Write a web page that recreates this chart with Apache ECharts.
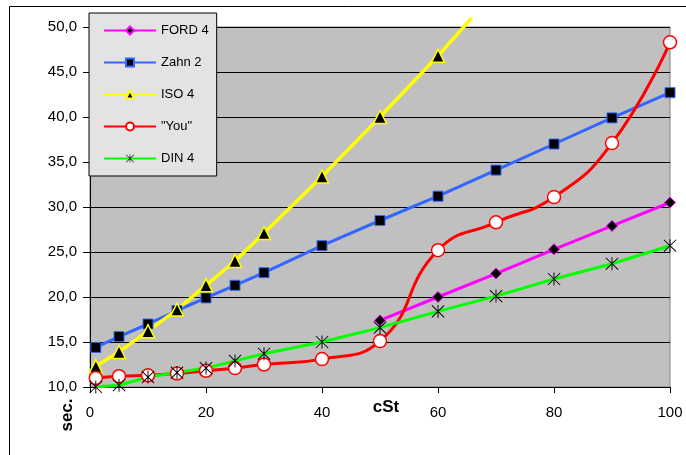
<!DOCTYPE html>
<html>
<head>
<meta charset="utf-8">
<script src="https://cdn.jsdelivr.net/npm/echarts@6/dist/echarts.min.js"></script>
<style>
html,body{margin:0;padding:0;background:#fff;}
#chart{width:686px;height:455px;}
</style>
</head>
<body>
<div id="chart"></div>
<script>
// ---- data ----
var seriesNames = ['FORD 4', 'Zahn 2', 'ISO 4', '"You"', 'DIN 4'];
var xStd = [1, 5, 10, 15, 20, 25, 30, 40, 50, 60, 70, 80, 90, 100];
var fordX = [50, 60, 70, 80, 90, 100];
var fordY = [17.4, 20.0, 22.6, 25.3, 27.9, 30.5];
var zahnY = [14.4, 15.6, 17.0, 18.5, 19.9, 21.3, 22.7, 25.7, 28.5, 31.2, 34.1, 37.0, 39.9, 42.7];
var isoX = [1, 5, 10, 15, 20, 25, 30, 40, 50, 60, 65.8];
var isoY = [12.3, 13.9, 16.2, 18.6, 21.3, 24.0, 27.1, 33.4, 40.0, 46.8, 51.0];
var youY = [11.0, 11.2, 11.3, 11.5, 11.8, 12.1, 12.5, 13.1, 15.1, 25.2, 28.3, 31.1, 37.1, 48.3];
var dinY = [10.0, 10.2, 11.1, 11.6, 12.1, 12.9, 13.7, 15.0, 16.6, 18.4, 20.1, 22.0, 23.7, 25.7];
var xTicks = [0, 20, 40, 60, 80, 100];
var yTicks = [10, 15, 20, 25, 30, 35, 40, 45, 50];
var xAxisName = 'cSt';
var yAxisName = 'sec.';

function pairs(xs, ys) { return xs.map(function (x, i) { return [x, ys[i]]; }); }

var FONT = '"Liberation Sans", Arial, sans-serif';
var asterisk = 'path://M9.3 0L10.7 0L10.7 20L9.3 20Z M0.3 1.3L1.3 0.3L19.7 18.7L18.7 19.7Z M18.7 0.3L19.7 1.3L1.3 19.7L0.3 18.7Z';

var isoData = pairs(isoX, isoY);
isoData[isoData.length - 1] = { value: isoData[isoData.length - 1], symbol: 'none' };

var chart = echarts.init(document.getElementById('chart'), null, { renderer: 'canvas' });
chart.setOption({
  backgroundColor: '#ffffff',
  animation: false,
  textStyle: { fontFamily: FONT },
  grid: { left: 90, right: 16, top: 27, bottom: 68, show: true, backgroundColor: '#c0c0c0', borderColor: '#808080', borderWidth: 1 },
  xAxis: {
    type: 'value', min: xTicks[0], max: xTicks[xTicks.length - 1], interval: 20,
    axisLine: { show: true, lineStyle: { color: '#000', width: 1 } },
    axisTick: { show: true, inside: false, length: 6, lineStyle: { color: '#000' } },
    axisLabel: { margin: 18, fontSize: 15, color: '#000', fontFamily: FONT },
    splitLine: { show: false }
  },
  yAxis: {
    type: 'value', min: yTicks[0], max: yTicks[yTicks.length - 1], interval: 5,
    axisLine: { show: true, lineStyle: { color: '#000', width: 1 } },
    axisTick: { show: true, length: 7, lineStyle: { color: '#000' } },
    axisLabel: { margin: 13, fontSize: 15, color: '#000', fontFamily: FONT,
      formatter: function (v) { return v.toFixed(1).replace('.', ','); } },
    splitLine: { show: true, lineStyle: { color: '#000', width: 1 } }
  },
  legend: {
    orient: 'vertical', left: 89, top: 13,
    padding: [11, 8, 11, 14], itemGap: 19, itemWidth: 52, itemHeight: 10,
    backgroundColor: '#e3e3e3', borderColor: '#000', borderWidth: 1, borderRadius: 0,
    textStyle: { fontSize: 13, color: '#000', fontFamily: FONT },
    data: seriesNames
  },
  graphic: [
    { type: 'rect', silent: true, z: -1, shape: { x: 9.5, y: 6.5, width: 720, height: 520 },
      style: { fill: 'none', stroke: '#000', lineWidth: 1 } },
    { type: 'text', x: 386, y: 407, style: { text: xAxisName, font: 'bold 17px ' + FONT, fill: '#000', textAlign: 'center', textVerticalAlign: 'middle' } },
    { type: 'text', x: 67, y: 415, rotation: Math.PI / 2, style: { text: yAxisName, font: 'bold 17px ' + FONT, fill: '#000', textAlign: 'center', textVerticalAlign: 'middle' } }
  ],
  series: [
    { name: seriesNames[0], type: 'line', data: pairs(fordX, fordY),
      symbol: 'diamond', symbolSize: 11,
      lineStyle: { color: '#ff00ff', width: 3 },
      itemStyle: { color: '#000', borderColor: '#ff00ff', borderWidth: 1 } },
    { name: seriesNames[1], type: 'line', data: pairs(xStd, zahnY),
      symbol: 'rect', symbolSize: 10,
      lineStyle: { color: '#3366ff', width: 3 },
      itemStyle: { color: '#000', borderColor: '#3366ff', borderWidth: 1 } },
    { name: seriesNames[2], type: 'line', data: isoData, clip: false,
      symbol: 'triangle', symbolSize: 13,
      lineStyle: { color: '#ffff00', width: 3.5 },
      itemStyle: { color: '#000', borderColor: '#ffff00', borderWidth: 1.5 } },
    { name: seriesNames[3], type: 'line', data: pairs(xStd, youY), smooth: 0.5,
      symbol: 'circle', symbolSize: 13,
      lineStyle: { color: '#ff0000', width: 3 },
      itemStyle: { color: '#fff', borderColor: '#ff0000', borderWidth: 1.5 } },
    { name: seriesNames[4], type: 'line', data: pairs(xStd, dinY),
      symbol: asterisk, symbolSize: 13,
      lineStyle: { color: '#00ff00', width: 3 },
      itemStyle: { color: '#000', borderWidth: 0 } }
  ]
});
</script>
</body>
</html>
